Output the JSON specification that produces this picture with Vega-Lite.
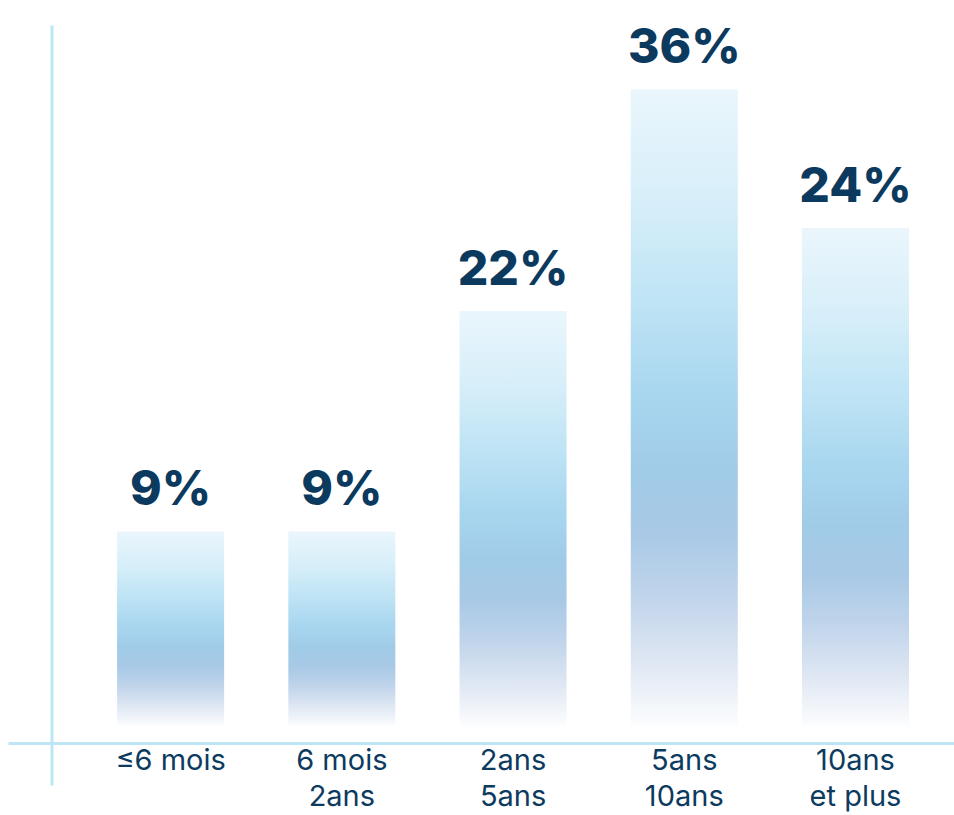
{
  "$schema": "https://vega.github.io/schema/vega-lite/v6.json",
  "width": 946,
  "height": 760,
  "autosize": {"type": "none"},
  "padding": {"left": 8, "top": 25, "right": 0, "bottom": 30},
  "background": "white",
  "config": {"view": {"stroke": null}},
  "data": {
    "values": [
      {"tranche": "≤6 mois", "hauteur": 11.0, "etiquette": "9%"},
      {"tranche": "6 mois|2ans", "hauteur": 11.0, "etiquette": "9%"},
      {"tranche": "2ans|5ans", "hauteur": 23.46, "etiquette": "22%"},
      {"tranche": "5ans|10ans", "hauteur": 36.0, "etiquette": "36%"},
      {"tranche": "10ans|et plus", "hauteur": 28.15, "etiquette": "24%"}
    ]
  },
  "encoding": {
    "x": {
      "field": "tranche",
      "type": "nominal",
      "sort": null,
      "title": null,
      "scale": {"paddingInner": 0.375, "paddingOuter": 0.45, "align": 0.708},
      "axis": {
        "offset": -42,
        "domainColor": "#bde5f5",
        "domainWidth": 3,
        "domainCap": "butt",
        "ticks": false,
        "labelAngle": 0,
        "labelExpr": "split(datum.value, '|')",
        "labelFont": "Inter",
        "labelFontSize": 29,
        "labelColor": "#0d3b5f",
        "labelLineHeight": 36,
        "labelPadding": 3,
        "labelBaseline": "top"
      }
    },
    "y": {
      "field": "hauteur",
      "type": "quantitative",
      "title": null,
      "scale": {"domain": [-3.335, 39.63], "nice": false, "zero": false},
      "axis": {
        "offset": -43.5,
        "domainColor": "#bde5f5",
        "domainWidth": 3,
        "domainCap": "butt",
        "ticks": false,
        "labels": false,
        "grid": false
      }
    }
  },
  "layer": [
    {
      "mark": {
        "type": "bar",
        "color": {
          "gradient": "linear",
          "x1": 0, "y1": 0, "x2": 0, "y2": 1,
          "stops": [
            {"offset": 0, "color": "#eaf6fc"},
            {"offset": 0.18, "color": "#d6eef9"},
            {"offset": 0.33, "color": "#bfe4f5"},
            {"offset": 0.48, "color": "#a8d6ef"},
            {"offset": 0.6, "color": "#a0cbe7"},
            {"offset": 0.7, "color": "#a9c9e6"},
            {"offset": 0.8, "color": "#c1d5eb"},
            {"offset": 0.9, "color": "#dfe7f3"},
            {"offset": 1, "color": "#fcfdfe"}
          ]
        }
      },
      "encoding": {"y2": {"datum": 0}}
    },
    {
      "mark": {
        "type": "text",
        "font": "Inter",
        "fontWeight": 800,
        "fontSize": 48,
        "color": "#0b3a5e",
        "baseline": "alphabetic",
        "dy": -26
      },
      "encoding": {"text": {"field": "etiquette"}}
    }
  ]
}
